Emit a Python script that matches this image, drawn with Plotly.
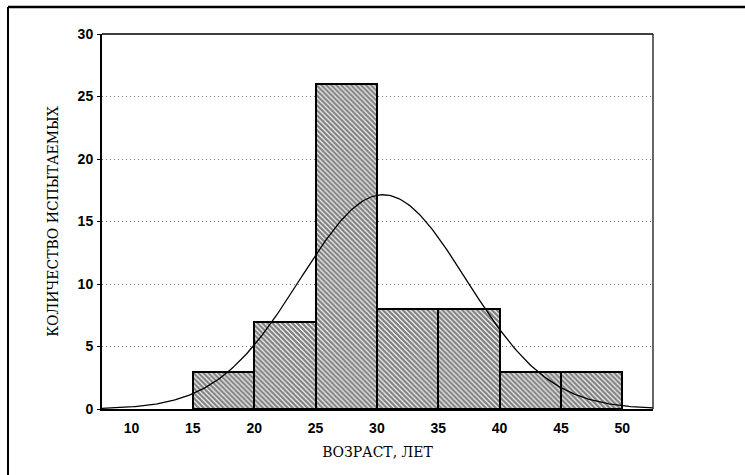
import numpy as np
import plotly.graph_objects as go

# Histogram of subjects by age (5-year bins)
bin_starts = [15, 20, 25, 30, 35, 40, 45]
counts = [3, 7, 26, 8, 8, 3, 3]
bin_width = 5

# Fitted normal curve parameters
fit_mean = 30.5
fit_sd = 6.75

x_ticks = [10, 15, 20, 25, 30, 35, 40, 45, 50]
y_ticks = [0, 5, 10, 15, 20, 25, 30]

x_range = [7.6, 52.5]
y_range = [0, 30]

n_total = sum(counts)
bar_centers = [s + bin_width / 2 for s in bin_starts]

xs = np.linspace(x_range[0], x_range[1], 300)
ys = n_total * bin_width / (fit_sd * np.sqrt(2 * np.pi)) * np.exp(-0.5 * ((xs - fit_mean) / fit_sd) ** 2)

fig = go.Figure()
fig.add_trace(go.Bar(
    x=bar_centers, y=counts, width=bin_width,
    marker=dict(
        color="white",
        line=dict(color="black", width=2),
        pattern=dict(shape="\\", size=3.5, solidity=0.65, fgcolor="black", bgcolor="white"),
    ),
    showlegend=False,
))
fig.add_trace(go.Scatter(
    x=xs, y=ys, mode="lines",
    line=dict(color="black", width=1.3),
    showlegend=False,
))

W, H = 745, 475
ml, mr, mt, mb = 102, 92, 34, 66
pw, ph = W - ml - mr, H - mt - mb

def px_x(p):
    return (p - ml) / pw

def px_y(p):
    return 1 - (p - mt) / ph

tick_font = dict(family="Liberation Sans, Arial", size=14, color="black", weight="bold")
title_font = dict(family="DejaVu Serif, Liberation Serif", size=14, color="black")

fig.update_layout(
    width=W, height=H,
    margin=dict(l=ml, r=mr, t=mt, b=mb),
    paper_bgcolor="white", plot_bgcolor="white",
    bargap=0,
    xaxis=dict(
        range=x_range, tickvals=x_ticks, ticktext=[str(v) for v in x_ticks],
        tickfont=tick_font, showgrid=False, zeroline=False,
        showline=True, linecolor="black", linewidth=2,
        ticks="", ticklabelstandoff=5,
        title=dict(text="ВОЗРАСТ, ЛЕТ", font=title_font, standoff=12),
    ),
    yaxis=dict(
        range=y_range, tickvals=y_ticks, ticktext=[str(v) for v in y_ticks],
        tickfont=tick_font, zeroline=False,
        showgrid=True, gridcolor="#777", gridwidth=1, griddash="1px,3px",
        showline=True, linecolor="black", linewidth=2,
        ticks="outside", ticklen=3, tickcolor="black", ticklabelstandoff=1,
        title=dict(text="КОЛИЧЕСТВО ИСПЫТАЕМЫХ", font=title_font, standoff=16),
    ),
    shapes=[
        # plot frame: top and right edges
        dict(type="line", xref="paper", yref="paper", x0=0, x1=1, y0=1, y1=1,
             line=dict(color="black", width=1.5)),
        dict(type="line", xref="paper", yref="paper", x0=1, x1=1, y0=0, y1=1,
             line=dict(color="black", width=1.2)),
        # outer page frame: top and left rules
        dict(type="line", xref="paper", yref="paper",
             x0=px_x(8), x1=px_x(745), y0=px_y(7), y1=px_y(7),
             line=dict(color="black", width=2.5)),
        dict(type="line", xref="paper", yref="paper",
             x0=px_x(8), x1=px_x(8), y0=px_y(7), y1=px_y(475),
             line=dict(color="black", width=2)),
    ],
)

fig.write_html("out.html")
